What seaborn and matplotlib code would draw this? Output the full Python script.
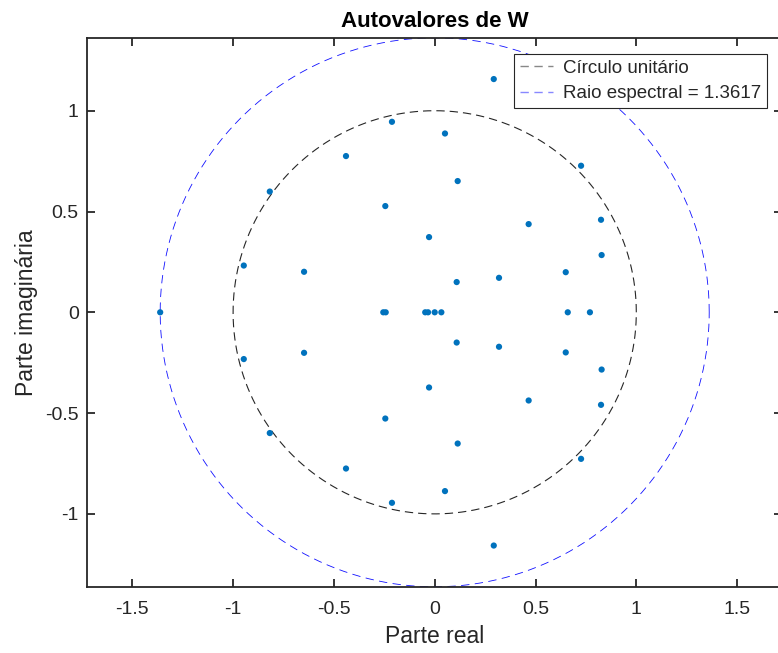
import numpy as np
import pandas as pd
import matplotlib
matplotlib.use("Agg")
import matplotlib.pyplot as plt
import seaborn as sns

# Eigenvalues (upper half-plane; conjugates added below)
pair_re = [0.293, -0.212, 0.051, -0.440, 0.726, -0.818, 0.114, -0.245, 0.825,
           0.466, -0.028, 0.828, -0.947, -0.648, 0.650, 0.319, 0.109]
pair_im = [1.157, 0.945, 0.887, 0.775, 0.727, 0.599, 0.651, 0.527, 0.459,
           0.4375, 0.373, 0.284, 0.232, 0.201, 0.199, 0.171, 0.150]
real_only = [-1.3617, -0.255, -0.243, -0.047, -0.033, 0.000, 0.033, 0.660, 0.770]

spectral_radius = 1.3617
title = "Autovalores de W"
xlabel = "Parte real"
ylabel = "Parte imaginária"
legend_labels = ["Círculo unitário", f"Raio espectral = {spectral_radius:.4f}"]
xticks = [-1.5, -1, -0.5, 0, 0.5, 1, 1.5]
xticklabels = ["-1.5", "-1", "-0.5", "0", "0.5", "1", "1.5"]
yticks = [-1, -0.5, 0, 0.5, 1]
yticklabels = ["-1", "-0.5", "0", "0.5", "1"]

eig_re = pair_re + pair_re + real_only
eig_im = pair_im + [-v for v in pair_im] + [0.0] * len(real_only)
eig = pd.DataFrame({"re": eig_re, "im": eig_im})

theta = np.linspace(0, 2 * np.pi, 600)
unit = pd.DataFrame({"x": np.cos(theta), "y": np.sin(theta)})
spec = pd.DataFrame({"x": spectral_radius * np.cos(theta),
                     "y": spectral_radius * np.sin(theta)})

sns.set_theme(style="white")
plt.rcParams["font.family"] = ["Liberation Sans", "DejaVu Sans"]
plt.rcParams["axes.unicode_minus"] = False

fig = plt.figure(figsize=(7.78, 6.53), dpi=100)
ax = fig.add_axes([87 / 778, 66.2 / 653, 695.4 / 778, 549 / 653])

sns.lineplot(data=unit, x="x", y="y", sort=False, estimator=None, ax=ax,
             color="#262626", linewidth=0.8, zorder=2)
ax.lines[-1].set_dashes((7.5, 4.5))
h1 = ax.lines[-1]
sns.lineplot(data=spec, x="x", y="y", sort=False, estimator=None, ax=ax,
             color="#1010ff", linewidth=0.6, zorder=2)
ax.lines[-1].set_dashes((10, 6.5))
h2 = ax.lines[-1]

sns.scatterplot(data=eig, x="re", y="im", ax=ax, color="#0072BD", s=20,
                edgecolor="none", linewidth=0, zorder=3)

ax.set_xlim(-1.7247, 1.7247)
ax.set_ylim(-spectral_radius, spectral_radius)
ax.set_xticks(xticks)
ax.set_xticklabels(xticklabels)
ax.set_yticks(yticks)
ax.set_yticklabels(yticklabels)

for s in ax.spines.values():
    s.set_visible(True)
    s.set_color("#262626")
    s.set_linewidth(1.3)
ax.tick_params(axis="both", which="major", direction="in", length=5.5, width=1.3,
               color="#262626", labelcolor="#262626", labelsize=14,
               top=True, right=True, bottom=True, left=True)
ax.tick_params(axis="x", pad=10)
ax.tick_params(axis="y", pad=6)

ax.set_xlabel(xlabel, fontsize=16.5, color="#262626", labelpad=5)
ax.set_ylabel(ylabel, fontsize=16.5, color="#262626", labelpad=5)
ax.set_title(title, fontsize=16, fontweight="bold", color="black", pad=8)

leg = ax.legend([h1, h2], legend_labels, loc="upper right",
                bbox_to_anchor=((767 - 87) / 695.4, (586.8 - 54) / 549),
                borderaxespad=0, fontsize=13.5, frameon=True, fancybox=False,
                framealpha=1, edgecolor="#262626", handlelength=1.75,
                handletextpad=0.55, borderpad=0.3, labelspacing=0.45,
                labelcolor="#262626")
leg.get_frame().set_linewidth(0.8)
lines = leg.get_lines()
lines[0].set_color("#888888")
lines[1].set_color("#8888ff")
for lh in lines:
    lh.set_linewidth(1.0)
    lh.set_dashes((6, 4))

fig.savefig("out.png", dpi=100)
